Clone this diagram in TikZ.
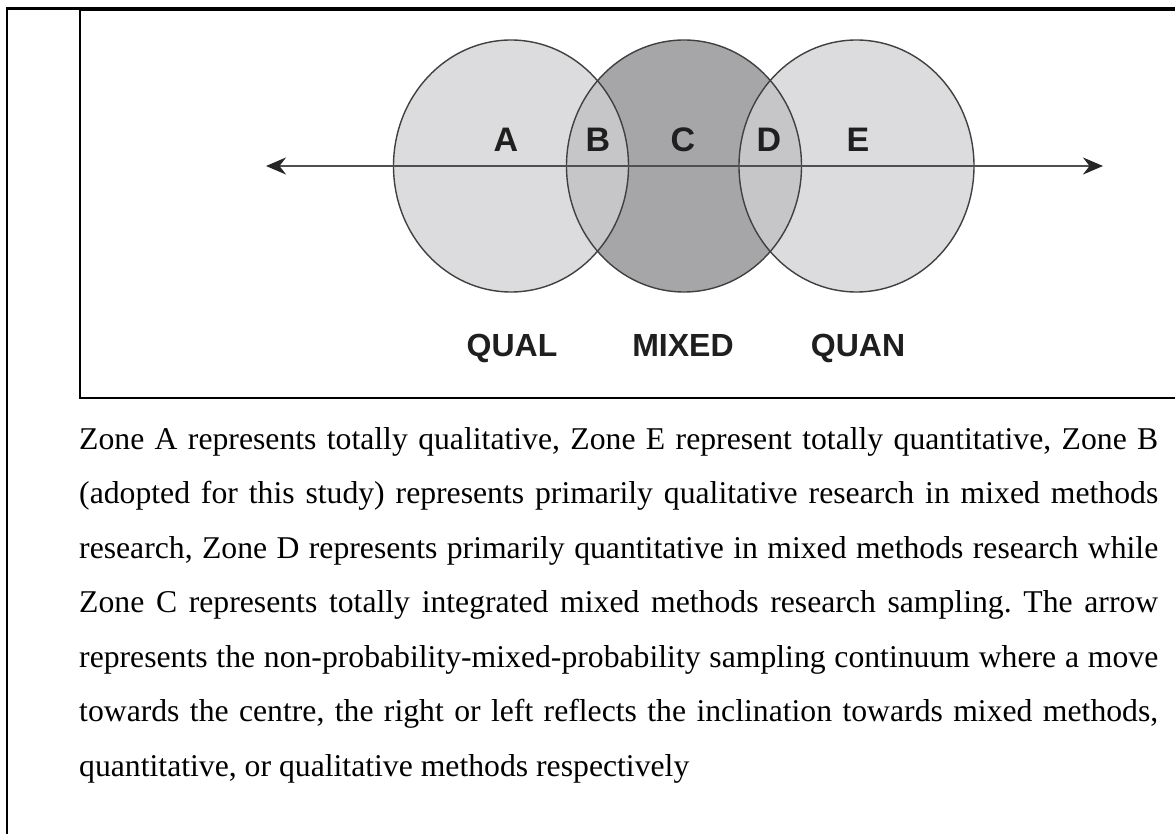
\documentclass[tikz,border=0pt]{standalone}
\usepackage{fontspec}
\setmainfont{Liberation Serif}
\newfontfamily\labfont{Liberation Sans}
\usetikzlibrary{arrows.meta}
\definecolor{lightc}{HTML}{DCDCDE}
\definecolor{midc}{HTML}{C6C6C9}
\definecolor{darkc}{HTML}{A6A6A9}
\definecolor{edgec}{HTML}{404040}
\definecolor{arrc}{HTML}{505050}
\definecolor{tipc}{HTML}{262626}
\frenchspacing
\begin{document}
\begin{tikzpicture}[x=1pt,y=-1pt,
  zone/.style={font=\labfont\bfseries\fontsize{34}{40}\selectfont, text=black!88, inner sep=0, anchor=base},
  bottomlab/.style={font=\labfont\bfseries\fontsize{32}{38}\selectfont, text=black!88, inner sep=0, anchor=base},
  para/.style={font=\fontsize{31.7}{38}\selectfont, anchor=base west, inner sep=0},
  circ/.style={draw=edgec, line width=1.4pt},
  arr/.style={draw=arrc, line width=2pt, {Stealth[length=20pt,width=17pt,color=tipc]}-{Stealth[length=20pt,width=17pt,color=tipc]}}]
\useasboundingbox (0,0) rectangle (1175,834);
\fill[white] (0,0) rectangle (1175,834);
% frames
\draw[line width=2.5pt, black] (7,834) -- (7,8.5) -- (1175,8.5);
\draw[line width=2pt, black] (1176,10) -- (79.5,10) -- (79.5,397.5) -- (1176,397.5);
% circles
\fill[lightc] (511,166) ellipse [x radius=117.5pt, y radius=126pt];
\fill[lightc] (856.5,166) ellipse [x radius=117.5pt, y radius=126pt];
\fill[darkc] (684,166) ellipse [x radius=117.5pt, y radius=126pt];
\begin{scope}
  \clip (684,166) ellipse [x radius=117.5pt, y radius=126pt];
  \fill[midc] (511,166) ellipse [x radius=117.5pt, y radius=126pt];
  \fill[midc] (856.5,166) ellipse [x radius=117.5pt, y radius=126pt];
\end{scope}
\draw[circ] (511,166) ellipse [x radius=117.5pt, y radius=126pt];
\draw[circ] (684,166) ellipse [x radius=117.5pt, y radius=126pt];
\draw[circ] (856.5,166) ellipse [x radius=117.5pt, y radius=126pt];
% arrow
\coordinate (L) at (266,166);
\coordinate (R) at (1103,166);
\draw[arr] (L) -- (R);
% zone letters
\node[zone] (A) at (506,152) {A};
\node[zone] (B) at (598,152) {B};
\node[zone] (C) at (683,152) {C};
\node[zone] (D) at (769,152) {D};
\node[zone] (E) at (858,152) {E};
\node[bottomlab] (qual) at (512,356) {QUAL};
\node[bottomlab] (mixed) at (683,356) {MIXED};
\node[bottomlab] (quan) at (858,356) {QUAN};
% paragraph
\node[para] (l1) at (79,449) {\makebox[1079pt][s]{Zone A represents totally qualitative, Zone E represent totally quantitative, Zone B}};
\node[para] (l2) at (79,503.5) {\makebox[1079pt][s]{(adopted for this study) represents primarily qualitative research in mixed methods}};
\node[para] (l3) at (79,558) {\makebox[1079pt][s]{research, Zone D represents primarily quantitative in mixed methods research while}};
\node[para] (l4) at (79,612.5) {\makebox[1079pt][s]{Zone C represents totally integrated mixed methods research sampling. The arrow}};
\node[para] (l5) at (79,667) {\makebox[1079pt][s]{represents the non-probability-mixed-probability sampling continuum where a move}};
\node[para] (l6) at (79,721.5) {\makebox[1079pt][s]{towards the centre, the right or left reflects the inclination towards mixed methods,}};
\node[para] (l7) at (79,776) {quantitative, or qualitative methods respectively};
\end{tikzpicture}
\end{document}
